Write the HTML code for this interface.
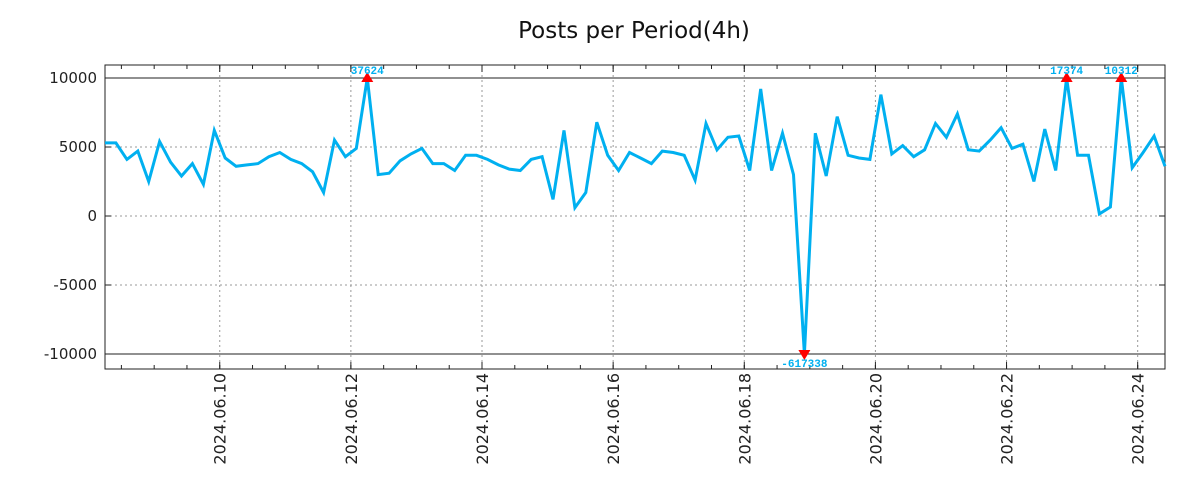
<!DOCTYPE html>
<html><head><meta charset="utf-8"><style>
html,body{margin:0;padding:0;background:#fff;}
svg{display:block;font-family:"DejaVu Sans","Liberation Sans",sans-serif;}
</style></head><body>
<svg id="chart" width="1200" height="500">
<text x="634" y="38" text-anchor="middle" font-size="23" fill="#111">Posts per Period(4h)</text>
<g id="grid"></g><g id="axes"></g><g id="series"></g><g id="marks"></g>
</svg>
<script>
const dateTicks = ["2024.06.10","2024.06.12","2024.06.14","2024.06.16","2024.06.18","2024.06.20","2024.06.22","2024.06.24"];
const dateTickDays = [1.75,3.75,5.75,7.75,9.75,11.75,13.75,15.75];
const yTicks = [10000,5000,0,-5000,-10000];
const posts = [5300,5300,4100,4700,2500,5400,3900,2900,3800,2300,6200,4200,3600,3700,3800,4300,4600,4100,3800,3200,
1700,5500,4300,4900,37624,3000,3100,4000,4500,4900,3800,3800,3300,4400,4400,4100,3700,3400,3300,4100,
4300,1200,6200,600,1700,6800,4400,3300,4600,4200,3800,4700,4600,4400,2600,6700,4800,5700,5800,3300,
9200,3300,6000,3000,-617338,6000,2900,7200,4400,4200,4100,8800,4500,5100,4300,4800,6700,5700,7400,4800,
4700,5500,6400,4900,5200,2500,6300,3300,17374,4400,4400,150,650,10312,3500,4600,5800,3600];

const NS="http://www.w3.org/2000/svg";
const L=105,R=1165,T=65,B=369;
const yMax=10942,yMin=-11087,clipV=10000;
const ppd=(R-L)/(97/6);
const xs=i=>L+i*(R-L)/(posts.length-1);
const xd=d=>L+d*ppd;
const ys=v=>T+(yMax-v)/(yMax-yMin)*(B-T);
function mk(tag,attrs,parent){const e=document.createElementNS(NS,tag);for(const k in attrs)e.setAttribute(k,attrs[k]);parent.appendChild(e);return e;}
const grid=document.getElementById('grid'),axes=document.getElementById('axes'),series=document.getElementById('series'),marks=document.getElementById('marks');

yTicks.forEach(v=>{
  const y=ys(v);
  const solid=Math.abs(v)===clipV;
  const g=mk('line',{x1:L,x2:R,y1:y,y2:y,stroke:solid?'#222':'#999','stroke-width':1,'stroke-dasharray':solid?'':'2,3'},grid);
  
  
  const t=mk('text',{x:L-8,y:y+5,'text-anchor':'end','font-size':15,fill:'#222'},axes);
  t.textContent=v;
  
  
  mk('line',{x1:L,x2:L+6,y1:y,y2:y,stroke:'#222'},axes);
  mk('line',{x1:R,x2:R-6,y1:y,y2:y,stroke:'#222'},axes);
});
for(let d=0.25;xd(d)<R;d+=0.5){
  const x=xd(d);
  mk('line',{x1:x,x2:x,y1:B,y2:B-4,stroke:'#222'},axes);
  mk('line',{x1:x,x2:x,y1:T,y2:T+4,stroke:'#222'},axes);
}
dateTicks.forEach((lab,k)=>{
  const x=xd(dateTickDays[k]);
  const g=mk('line',{x1:x,x2:x,y1:T,y2:B,stroke:'#999','stroke-dasharray':'2,3'},grid);
  
  
  mk('line',{x1:x,x2:x,y1:B,y2:B-7,stroke:'#222'},axes);
  mk('line',{x1:x,x2:x,y1:T,y2:T+7,stroke:'#222'},axes);
  const t=mk('text',{x:0,y:0,'text-anchor':'end','font-size':16,fill:'#222',transform:`translate(${x+6},${B+4}) rotate(-90)`},axes);
  t.textContent=lab;
  
  
});
const frame=mk('rect',{x:L,y:T,width:R-L,height:B-T,fill:'none',stroke:'#222','stroke-width':1},axes);



const pts=posts.map((v,i)=>`${xs(i).toFixed(1)},${ys(Math.max(-clipV,Math.min(clipV,v))).toFixed(1)}`).join(' ');
const line=mk('polyline',{points:pts,fill:'none',stroke:'#00b0f0','stroke-width':3,'stroke-linejoin':'miter'},series);



posts.forEach((v,i)=>{
  if(Math.abs(v)<=clipV)return;
  const x=xs(i),up=v>0,y=ys(up?clipV:-clipV);
  const tri=mk('polygon',{points:up?`${x-6},${y+4} ${x+6},${y+4} ${x},${y-6}`:`${x-6},${y-4} ${x+6},${y-4} ${x},${y+6}`,fill:'#f00'},marks);
  
  
  const t=mk('text',{x:x,y:up?y-4:y+13,'text-anchor':'middle','font-size':11,'font-weight':'bold','font-family':'Liberation Mono, monospace',fill:'#00b0f0'},marks);
  t.textContent=v;
  
  
});
</script>
</body></html>
